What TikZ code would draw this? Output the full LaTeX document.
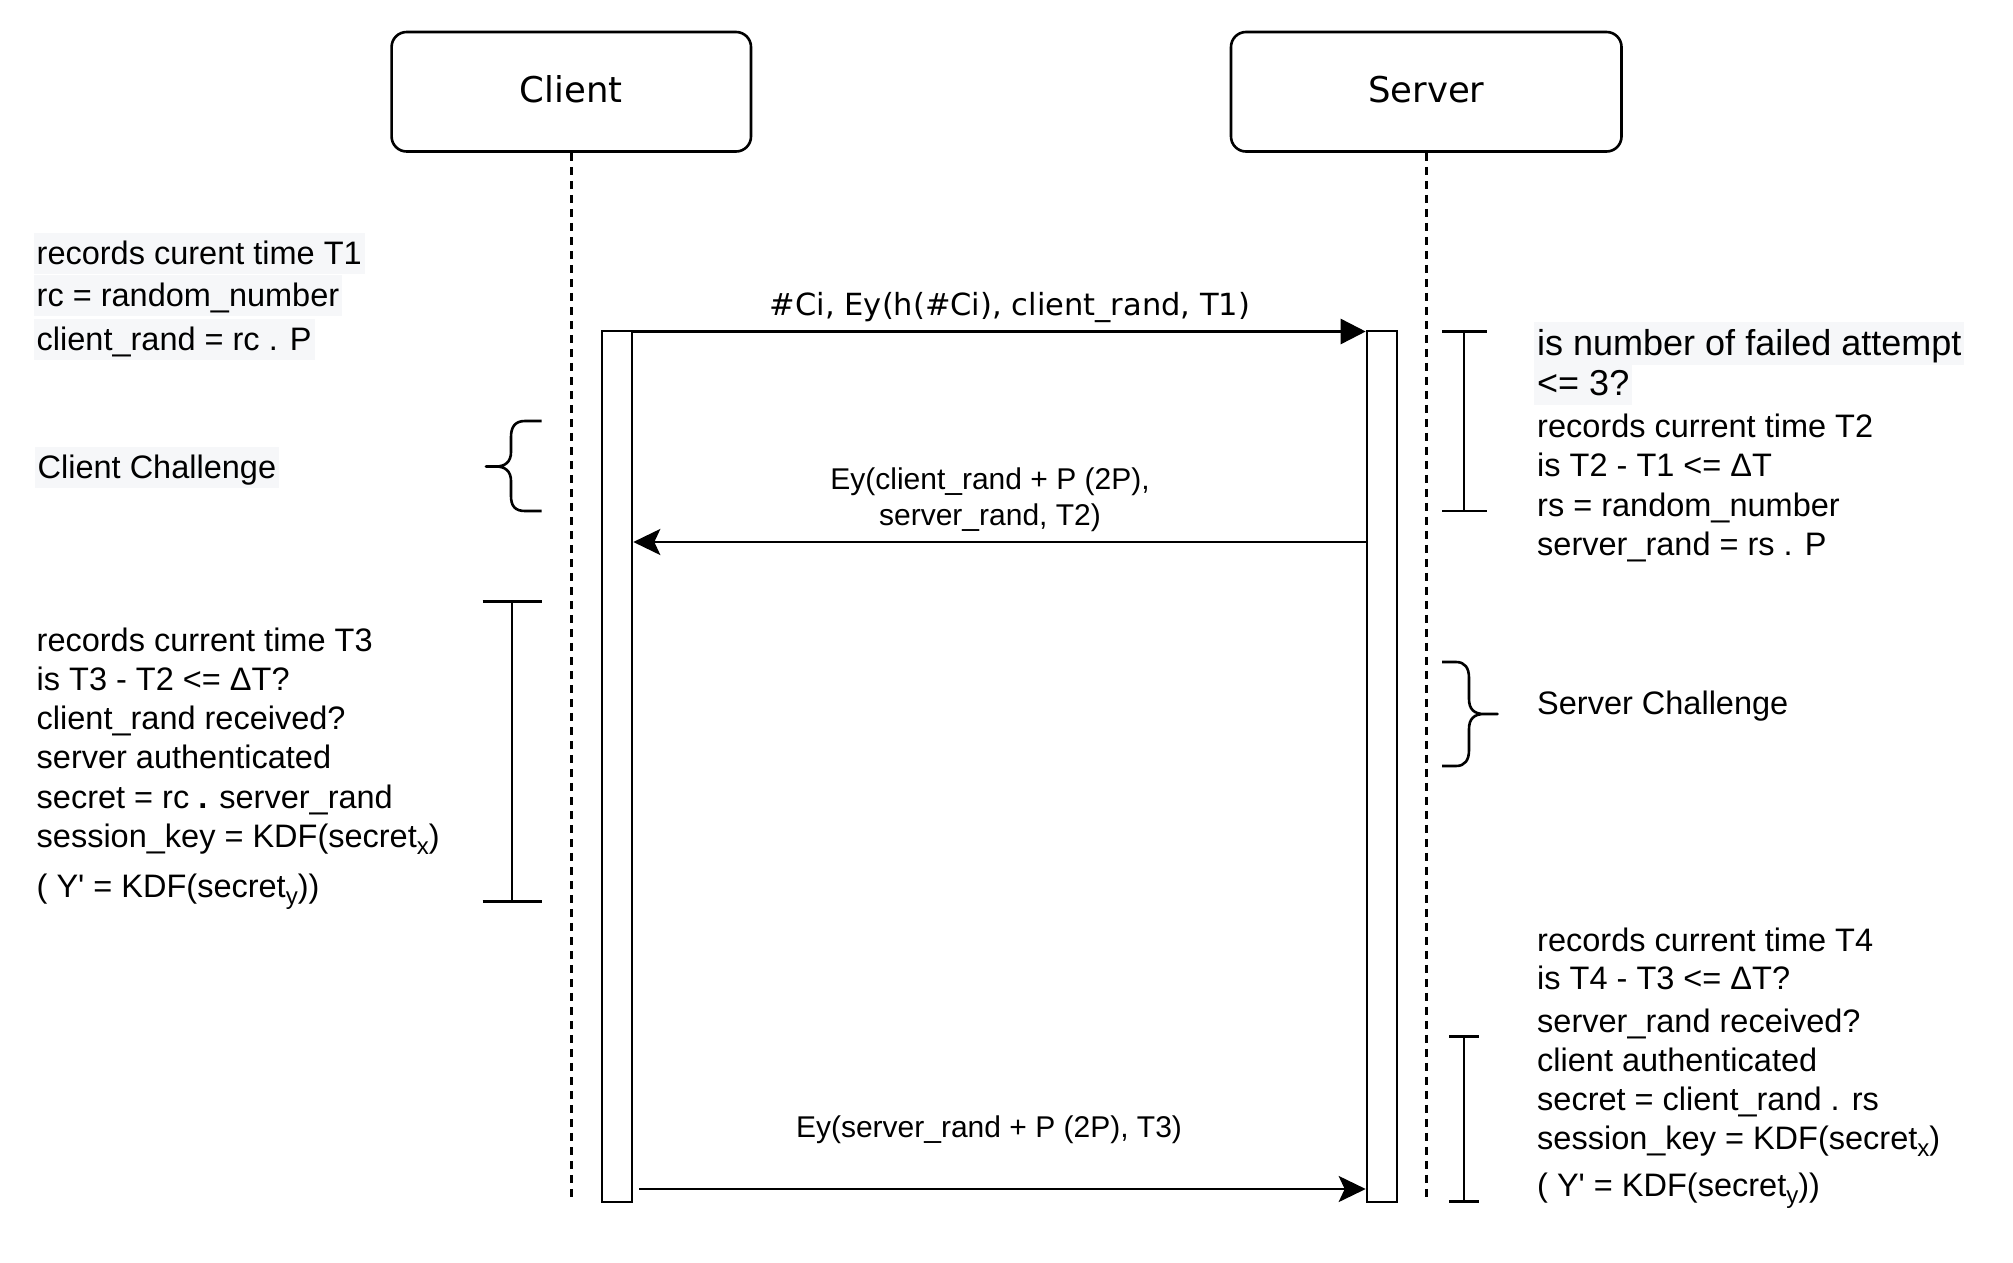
\documentclass[tikz,border=0pt]{standalone}
\usepackage{fontspec}
\newfontfamily\arialf{Liberation Sans}
\newfontfamily\verdf{DejaVu Sans}
\usetikzlibrary{arrows.meta}
\definecolor{hlgray}{RGB}{246,247,249}
\newcommand{\subx}[1]{\raisebox{-7pt}{\fontsize{24}{24}\selectfont #1}}
\begin{document}
\begin{tikzpicture}[x=1pt,y=-1pt,
  lw/.style={line width=2.6pt},
  actor/.style={draw, lw, rounded corners=15pt, inner sep=0pt, text depth=5pt, font=\verdf\fontsize{35.5}{40}\selectfont},
  bar/.style={draw, lw, fill=white, inner sep=0pt, minimum width=30pt, minimum height=871pt},
  life/.style={line width=2.5pt, dash pattern=on 8pt off 6pt},
  note/.style={font=\arialf\fontsize{32.5}{39}\selectfont, anchor=base west, inner sep=0pt},
  notehl/.style={note, fill=hlgray, inner xsep=3pt, inner ysep=0pt, text height=31pt, text depth=10pt},
  notebig/.style={notehl, font=\arialf\fontsize{36}{43}\selectfont, text height=33pt, text depth=10pt},
  msg/.style={font=\arialf\fontsize{30}{36}\selectfont, anchor=base, inner sep=0pt},
  msgv/.style={font=\verdf\fontsize{30.5}{36}\selectfont, anchor=base, inner sep=0pt},
  arr/.style={lw},
  brk/.style={lw, line join=round, line cap=butt},
]
\useasboundingbox[fill=white] (0,0) rectangle (2013,1263);

% actors
\node[actor, minimum width=359.4pt, minimum height=119.5pt] (client) at (571.3,91.75) {Client};
\node[actor, minimum width=390.5pt, minimum height=119.5pt] (server) at (1426.25,91.75) {Server};
\coordinate (cend) at (571.3,1202);
\coordinate (send) at (1426.25,1202);
\draw[life] (client.south) -- (cend);
\draw[life] (server.south) -- (send);

% activation bars
\node[bar] (cbar) at (617,766.5) {};
\node[bar] (sbar) at (1382,766.5) {};

% messages
\coordinate (y1) at (0,331.5);
\coordinate (y2) at (0,542);
\coordinate (y3) at (0,1189);
\coordinate (m3s) at (639,1189);
\draw[arr, -{Triangle[length=25pt, width=25pt]}] (cbar.east |- y1) -- (sbar.west |- y1);
\draw[arr, -{Stealth[length=27pt, width=26pt, inset=6pt]}] (sbar.west |- y2) -- (cbar.east |- y2);
\draw[arr, -{Stealth[length=27pt, width=26pt, inset=6pt]}] (m3s) -- (sbar.west |- y3);

\node[msgv] (m1lab) at (1010,315) {\#Ci, Ey(h(\#Ci), client\_rand, T1)};
\node[msg] (m2a) at (990,489) {Ey(client\_rand + P (2P),};
\node[msg] (m2b) at (990,525) {server\_rand, T2)};
\node[msg] (m3lab) at (989,1137) {Ey(server\_rand + P (2P), T3)};

% left notes
\node[notehl] (n1a) at (33.5,264) {records curent time T1};
\node[notehl] (n1b) at (33.5,306) {rc = random\_number};
\node[notehl] (n1c) at (33.5,350) {client\_rand = rc . P};
\node[notehl] (cc) at (34.5,478) {Client Challenge};

\node[note] (n3a) at (36.5,651) {records current time T3};
\node[note] (n3b) at (36.5,690) {is T3 - T2 <= ΔT?};
\node[note] (n3c) at (36.5,729) {client\_rand received?};
\node[note] (n3d) at (36.5,768) {server authenticated};
\node[note] (n3e) at (36.5,808) {secret = rc \textbf{.} server\_rand};
\node[note] (n3f) at (36.5,847) {session\_key = KDF(secret\subx{x})};
\node[note] (n3g) at (36.5,897) {( Y\textquotesingle{} = KDF(secret\subx{y}))};

% right notes
\node[notebig] (n2a) at (1534,355) {is number of failed attempt};
\node[notebig] (n2b) at (1534,395) {<= 3?};
\node[note] (n2c) at (1537,437) {records current time T2};
\node[note] (n2d) at (1537,476) {is T2 - T1 <= ΔT};
\node[note] (n2e) at (1537,516) {rs = random\_number};
\node[note] (n2f) at (1537,555) {server\_rand = rs . P};

\node[note] (sc) at (1537,714) {Server Challenge};

\node[note] (n4a) at (1537,951) {records current time T4};
\node[note] (n4b) at (1537,989) {is T4 - T3 <= ΔT?};
\node[note] (n4c) at (1537,1032.5) {server\_rand received?};
\node[note] (n4d) at (1537,1071.5) {client authenticated};
\node[note] (n4e) at (1537,1110.5) {secret = client\_rand . rs};
\node[note] (n4f) at (1537,1149.5) {session\_key = KDF(secret\subx{x})};
\node[note] (n4g) at (1537,1196) {( Y\textquotesingle{} = KDF(secret\subx{y}))};

% brackets
\draw[brk] (482.7,601.5) -- (541.8,601.5) (512,601.5) -- (512,901.5) (482.7,901.5) -- (541.8,901.5);
\draw[brk] (1442,331.5) -- (1486.6,331.5) (1464,331.5) -- (1464,511) (1442,511) -- (1486.6,511);
\draw[brk] (1449,1036.5) -- (1479,1036.5) (1464,1036.5) -- (1464,1201.7) (1449,1201.7) -- (1479,1201.7);

% braces
\draw[brk] (541.5,421) -- (525,421) .. controls (515,421) and (511,427) .. (511,437) -- (511,452)
  .. controls (511,462) and (505,466.5) .. (496,466.5) -- (486,466.5) -- (496,466.5)
  .. controls (505,466.5) and (511,471) .. (511,481) -- (511,496)
  .. controls (511,506) and (515,511) .. (525,511) -- (541.5,511);
\draw[brk] (1442,662) -- (1456,662) .. controls (1465,662) and (1469,668) .. (1469,678) -- (1469,699)
  .. controls (1469,709) and (1474,714) .. (1484,714) -- (1497.5,714) -- (1484,714)
  .. controls (1474,714) and (1469,719) .. (1469,729) -- (1469,750)
  .. controls (1469,760) and (1465,766) .. (1456,766) -- (1442,766);
\end{tikzpicture}
\end{document}
